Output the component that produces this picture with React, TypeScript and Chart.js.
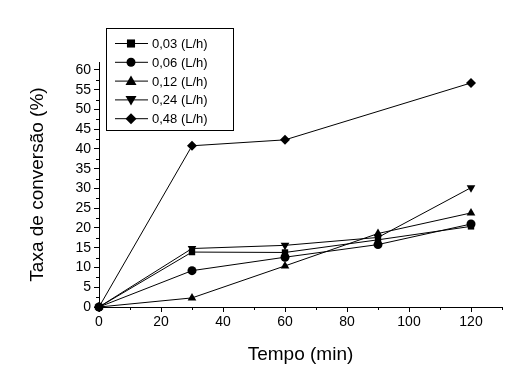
import React, { useEffect, useRef } from "react";
import { Chart, registerables } from "chart.js";

Chart.register(...registerables);

const times = [0, 30, 60, 90, 120];
const seriesLabels = ["0,03 (L/h)", "0,06 (L/h)", "0,12 (L/h)", "0,24 (L/h)", "0,48 (L/h)"];
const s003 = [0, 13.9, 13.8, 17.0, 20.4];
const s006 = [0, 9.2, 12.6, 15.8, 21.0];
const s012 = [0, 2.3, 10.4, 18.6, 23.8];
const s024 = [0, 14.8, 15.6, 17.6, 30.2];
const s048 = [0, 40.8, 42.3, null, 56.7];
const xTicks = [0, 20, 40, 60, 80, 100, 120];
const yTicks = [0, 5, 10, 15, 20, 25, 30, 35, 40, 45, 50, 55, 60];
const pointStyles = ["rect", "circle", "triangle", "triangle", "rectRot"];
const rotations = [0, 0, 0, 180, 0];
const radii = [4.5, 4.5, 5, 5, 5];

const FONT = "'Liberation Sans', Arial, sans-serif";

function drawMarker(ctx: any, style: string, r: number, rot: number, x: number, y: number) {
  ctx.save();
  ctx.fillStyle = "#000";
  ctx.translate(x, y);
  ctx.rotate((rot * Math.PI) / 180);
  ctx.beginPath();
  if (style === "rect") {
    ctx.rect(-r * 0.9, -r * 0.9, r * 1.8, r * 1.8);
  } else if (style === "circle") {
    ctx.arc(0, 0, r, 0, Math.PI * 2);
  } else if (style === "triangle") {
    ctx.moveTo(0, -r * 1.1);
    ctx.lineTo(r * 1.1, r * 0.8);
    ctx.lineTo(-r * 1.1, r * 0.8);
    ctx.closePath();
  } else {
    ctx.moveTo(0, -r * 1.1);
    ctx.lineTo(r * 1.1, 0);
    ctx.lineTo(0, r * 1.1);
    ctx.lineTo(-r * 1.1, 0);
    ctx.closePath();
  }
  ctx.fill();
  ctx.restore();
}

const legendAndMinor = {
  id: "legendAndMinor",
  afterDraw(chart: any) {
    const ctx = chart.ctx;
    const xs = chart.scales.x;
    const ys = chart.scales.y;
    ctx.save();
    ctx.strokeStyle = "#000";
    ctx.lineWidth = 1;
    ctx.beginPath();
    for (let v = 2.5; v <= 60; v += 5) {
      const py = Math.round(ys.getPixelForValue(v)) + 0.5;
      ctx.moveTo(ys.right - 3, py);
      ctx.lineTo(ys.right, py);
    }
    for (let v = 10; v <= 130; v += 20) {
      const px = Math.round(xs.getPixelForValue(v)) + 0.5;
      ctx.moveTo(px, xs.top);
      ctx.lineTo(px, xs.top + 3);
    }
    ctx.stroke();
    const bx = 106.5, by = 28.5, bw = 127, bh = 102;
    ctx.strokeRect(bx, by, bw, bh);
    ctx.font = "13px " + FONT;
    ctx.fillStyle = "#000";
    ctx.textBaseline = "middle";
    chart.data.datasets.forEach((ds: any, i: number) => {
      const yy = 43.5 + i * 18.8;
      ctx.beginPath();
      ctx.moveTo(115, yy);
      ctx.lineTo(148, yy);
      ctx.stroke();
      drawMarker(ctx, ds.pointStyle, ds.pointRadius, ds.pointRotation, 131, yy);
      ctx.fillText(ds.label, 152, yy + 1);
    });
    ctx.restore();
  },
};

export default function App() {
  const ref = useRef<HTMLCanvasElement>(null);
  useEffect(() => {
    const all = [s003, s006, s012, s024, s048];
    const chart = new Chart(ref.current!, {
      type: "line",
      data: {
        datasets: all.map((vals, i) => ({
          label: seriesLabels[i],
          data: times.map((t, j) => ({ x: t, y: vals[j] })),
          borderColor: "#000",
          borderWidth: 1,
          backgroundColor: "#000",
          pointBackgroundColor: "#000",
          pointBorderColor: "#000",
          pointBorderWidth: 0,
          pointStyle: pointStyles[i],
          pointRotation: rotations[i],
          pointRadius: radii[i],
          tension: 0,
          spanGaps: true,
          clip: false as any,
        })),
      },
      options: {
        animation: false,
        responsive: false,
        layout: { padding: { top: 62, right: 26, left: 0, bottom: 26 } },
        plugins: { legend: { display: false }, tooltip: { enabled: false } },
        scales: {
          x: {
            type: "linear",
            min: 0,
            max: 130,
            afterBuildTicks: (s: any) => {
              s.ticks = xTicks.map((v) => ({ value: v }));
            },
            afterFit: (s: any) => {
              s.height = 59;
            },
            ticks: { color: "#000", font: { family: FONT, size: 14 }, padding: 2, maxRotation: 0, autoSkip: false },
            grid: { drawOnChartArea: false, tickLength: 5, color: "#000", tickColor: "#000" },
            border: { color: "#000", width: 1 },
            title: { display: true, text: "Tempo (min)", color: "#000", font: { family: FONT, size: 19 }, padding: { top: 0, bottom: 0 } },
          },
          y: {
            type: "linear",
            min: 0,
            max: 62,
            afterBuildTicks: (s: any) => {
              s.ticks = yTicks.map((v) => ({ value: v }));
            },
            afterFit: (s: any) => {
              s.width = 99;
            },
            ticks: { color: "#000", font: { family: FONT, size: 14 }, padding: 3, autoSkip: false },
            grid: { drawOnChartArea: false, tickLength: 5, color: "#000", tickColor: "#000" },
            border: { color: "#000", width: 1 },
            title: { display: true, text: "Taxa de conversão (%)", color: "#000", font: { family: FONT, size: 19 }, padding: { bottom: 0, top: 26 } },
          },
        },
      },
      plugins: [legendAndMinor],
    } as any);
    return () => chart.destroy();
  }, []);
  return (
    <div style={{ position: "fixed", left: 0, top: 0, width: 528, height: 392, background: "#fff" }}>
      <canvas ref={ref} width={528} height={392} style={{ width: 528, height: 392 }} />
    </div>
  );
}
